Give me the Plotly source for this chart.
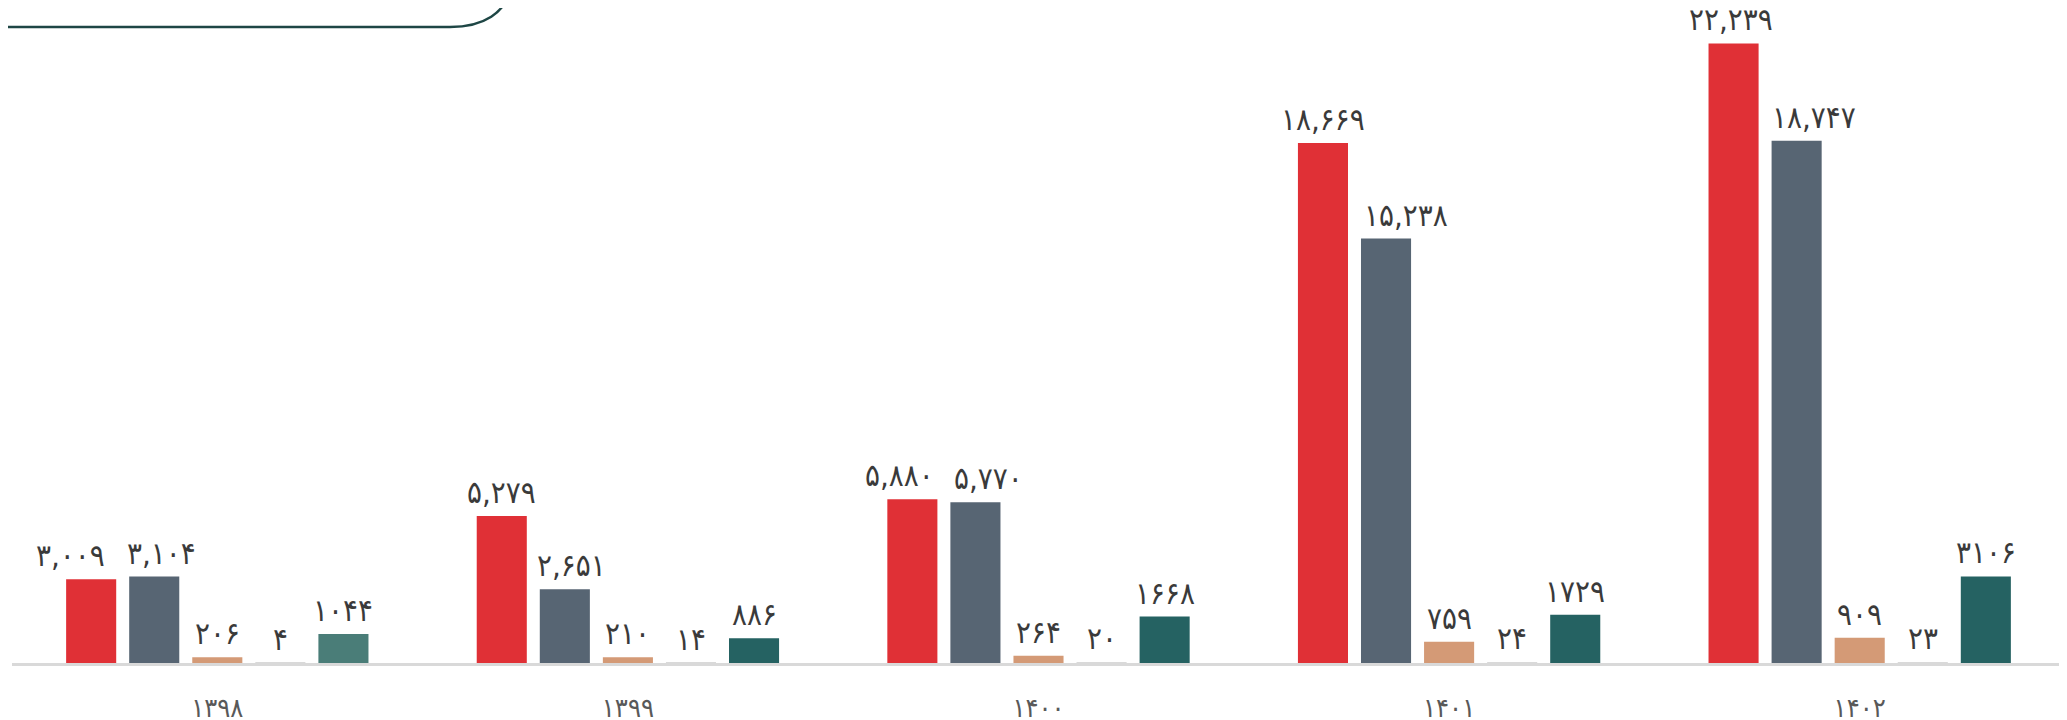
import plotly.graph_objects as go

categories = ["1398", "1399", "1400", "1401", "1402"]
series_a = [3009, 5279, 5880, 18669, 22239]
series_b = [3104, 2651, 5770, 15238, 18747]
series_c = [206, 210, 264, 759, 909]
series_d = [4, 14, 20, 24, 23]
series_e = [1044, 886, 1668, 1729, 3106]

FA = str.maketrans("0123456789", "۰۱۲۳۴۵۶۷۸۹")


def fa(n, comma=False):
    s = f"{n:,}" if comma else str(n)
    return s.translate(FA)


cats_fa = [fa(int(c)) for c in categories]

OFF = 8  # page body margin
W, H = 2067, 720
ml, mr, mt, mb = 4, 10, 0, 65
pw, ph = W - ml - mr, H - mt - mb
BARGAP, GROUPGAP = 0.232, 0.206

series = [series_a, series_b, series_c, series_d, series_e]
colors = ["#E03036", "#576573", "#D49A76", "#D9D9D9",
          ["#4A7D78", "#256262", "#256262", "#256262", "#256262"]]
use_comma = [True, True, False, False, False]
# horizontal nudges (px) of value labels, as placed in the original
nudge = [[-21, 0, -13, 0, -3],
         [7, 7, 13, 20, 17],
         [0, 0, 0, 0, 0],
         [0, 0, 0, 0, 0],
         [0, 0, 0, 0, 0]]

fig = go.Figure()
for vals, col in zip(series, colors):
    fig.add_trace(go.Bar(
        x=list(range(len(cats_fa))), y=vals,
        marker=dict(color=col, line=dict(width=0)),
        showlegend=False,
    ))

n = len(series)
slot = (1 - BARGAP) / n
for i, vals in enumerate(series):
    for j, v in enumerate(vals):
        fig.add_annotation(
            x=j + (i - (n - 1) / 2) * slot, y=v, xref="x", yref="y",
            text=fa(v, use_comma[i]), showarrow=False,
            yanchor="middle", xanchor="center",
            xshift=nudge[i][j], yshift=24, borderpad=0,
            font=dict(family="DejaVu Sans Condensed", size=31, color="#3A3A3A"),
        )


def px2paper(x, y):
    return (x - OFF - ml) / pw, (H - mb - (y - OFF)) / ph


pts = [(-20, 27), (450, 27), (485, 27), (505, 12), (510, -10)]
pp = [px2paper(*p) for p in pts]
path = (f"M {pp[0][0]},{pp[0][1]} L {pp[1][0]},{pp[1][1]} "
        f"C {pp[2][0]},{pp[2][1]} {pp[3][0]},{pp[3][1]} {pp[4][0]},{pp[4][1]}")
fig.add_shape(type="path", path=path, xref="paper", yref="paper",
              line=dict(color="#1E4645", width=2.5))

fig.update_layout(
    width=W, height=H,
    margin=dict(l=ml, r=mr, t=mt, b=mb, autoexpand=False),
    paper_bgcolor="white", plot_bgcolor="white",
    barmode="group", bargap=BARGAP, bargroupgap=GROUPGAP,
    xaxis=dict(showline=True, linecolor="#D9D9D9", linewidth=3,
               showgrid=False, ticks="", automargin=False,
               tickmode="array", tickvals=list(range(len(cats_fa))),
               ticktext=cats_fa, range=[-0.5, len(cats_fa) - 0.5],
               tickfont=dict(family="DejaVu Sans Condensed", size=27, color="#595959"),
               ticklabelstandoff=19),
    yaxis=dict(range=[0, 23513], visible=False, showgrid=False),
)

fig.write_html("out.html")
